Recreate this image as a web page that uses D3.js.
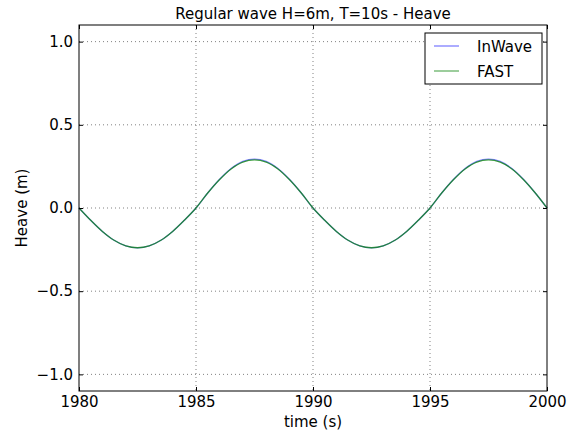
<!DOCTYPE html>
<html>
<head>
<meta charset="utf-8">
<script src="https://cdn.jsdelivr.net/npm/d3@7"></script>
<style>
  body { margin: 0; background: #fff; }
  text { font-family: "DejaVu Sans", sans-serif; fill: #000; }
</style>
</head>
<body>
<div id="chart"></div>
<script>
// Time samples (s), every 0.5 s
const times = [1980, 1980.5, 1981, 1981.5, 1982, 1982.5, 1983, 1983.5, 1984, 1984.5,
  1985, 1985.5, 1986, 1986.5, 1987, 1987.5, 1988, 1988.5, 1989, 1989.5,
  1990, 1990.5, 1991, 1991.5, 1992, 1992.5, 1993, 1993.5, 1994, 1994.5,
  1995, 1995.5, 1996, 1996.5, 1997, 1997.5, 1998, 1998.5, 1999, 1999.5, 2000];

const inWave = [0, -0.074, -0.141, -0.194, -0.228, -0.240, -0.228, -0.194, -0.141, -0.074,
  0, 0.090, 0.171, 0.237, 0.280, 0.294, 0.280, 0.237, 0.171, 0.090,
  0, -0.074, -0.141, -0.194, -0.228, -0.240, -0.228, -0.194, -0.141, -0.074,
  0, 0.090, 0.171, 0.237, 0.280, 0.294, 0.280, 0.237, 0.171, 0.090, 0];

const fast = [0, -0.074, -0.141, -0.194, -0.228, -0.239, -0.228, -0.194, -0.141, -0.074,
  0, 0.090, 0.170, 0.235, 0.276, 0.289, 0.276, 0.235, 0.170, 0.090,
  0, -0.074, -0.141, -0.194, -0.228, -0.239, -0.228, -0.194, -0.141, -0.074,
  0, 0.090, 0.170, 0.235, 0.276, 0.289, 0.276, 0.235, 0.170, 0.090, 0];

const xTicks = [1980, 1985, 1990, 1995, 2000];
const yTicks = [-1.0, -0.5, 0.0, 0.5, 1.0];

const series = [
  { name: "InWave", values: inWave, color: "#0000ff", opacity: 0.5 },
  { name: "FAST", values: fast, color: "#008000", opacity: 0.75 }
];

const width = 578, height = 431;
const margin = { left: 79, right: 31, top: 25, bottom: 40 };

const svg = d3.select('#chart').append('svg')
  .attr('width', width)
  .attr('height', height);

const x = d3.scaleLinear().domain([1980, 2000]).range([margin.left, width - margin.right]);
const y = d3.scaleLinear().domain([-1.1, 1.1]).range([height - margin.bottom, margin.top]);

// grid
svg.append('g').selectAll('line').data(xTicks.slice(1, -1)).join('line')
  .attr('x1', d => x(d)).attr('x2', d => x(d))
  .attr('y1', y(1.1)).attr('y2', y(-1.1))
  .attr('stroke', '#000').attr('stroke-width', 0.5).attr('stroke-dasharray', '1,3');
svg.append('g').selectAll('line').data(yTicks).join('line')
  .attr('x1', x(1980)).attr('x2', x(2000))
  .attr('y1', d => y(d)).attr('y2', d => y(d))
  .attr('stroke', '#000').attr('stroke-width', 0.5).attr('stroke-dasharray', '1,3');

// lines
const line = d3.line()
  .x((d, i) => x(times[i]))
  .y(d => y(d))
  .curve(d3.curveCatmullRom);

svg.append('g').selectAll('path').data(series).join('path')
  .attr('d', s => line(s.values))
  .attr('fill', 'none')
  .attr('stroke', s => s.color)
  .attr('stroke-opacity', s => s.opacity)
  .attr('stroke-width', 1.3);

// axes (ticks inward, like matplotlib classic)
const xAxis = svg.append('g').attr('transform', `translate(0,${y(-1.1)})`)
  .call(d3.axisBottom(x).tickValues(xTicks).tickFormat(d3.format('d')).tickSizeInner(-4).tickSizeOuter(0).tickPadding(5));
const xTop = svg.append('g').attr('transform', `translate(0,${y(1.1)})`)
  .call(d3.axisTop(x).tickValues(xTicks).tickFormat('').tickSizeInner(-4).tickSizeOuter(0));
const yAxis = svg.append('g').attr('transform', `translate(${x(1980)},0)`)
  .call(d3.axisLeft(y).tickValues(yTicks).tickFormat(d => d3.format('.1f')(d).replace('-', '\u2212')).tickSizeInner(-4).tickSizeOuter(0).tickPadding(6));
const yRight = svg.append('g').attr('transform', `translate(${x(2000)},0)`)
  .call(d3.axisRight(y).tickValues(yTicks).tickFormat('').tickSizeInner(-4).tickSizeOuter(0));

[xAxis, xTop, yAxis, yRight].forEach(g => {
  g.select('.domain').remove();
  g.selectAll('text').style('font-size', '15px').attr('font-family', null);
  g.selectAll('line').attr('stroke', '#000');
});

// frame
svg.append('rect')
  .attr('x', x(1980)).attr('y', y(1.1))
  .attr('width', x(2000) - x(1980)).attr('height', y(-1.1) - y(1.1))
  .attr('fill', 'none').attr('stroke', '#000').attr('stroke-width', 1);

// title and labels
svg.append('text').attr('x', (x(1980) + x(2000)) / 2).attr('y', 19)
  .attr('text-anchor', 'middle').style('font-size', '15px')
  .text('Regular wave H=6m, T=10s - Heave');
svg.append('text').attr('x', (x(1980) + x(2000)) / 2).attr('y', 427)
  .attr('text-anchor', 'middle').style('font-size', '15px')
  .text('time (s)');
svg.append('text')
  .attr('transform', `translate(22,${y(0)}) rotate(-90)`)
  .attr('text-anchor', 'middle').attr('dy', '0.35em').style('font-size', '15px')
  .text('Heave (m)');

// legend
const legend = svg.append('g').attr('transform', 'translate(425,33)');
legend.append('rect').attr('width', 117).attr('height', 51)
  .attr('fill', '#fff').attr('stroke', '#000').attr('stroke-width', 1);
const items = legend.selectAll('g').data(series).join('g')
  .attr('transform', (d, i) => `translate(0,${13 + i * 25})`);
items.append('line').attr('x1', 9).attr('x2', 34)
  .attr('stroke', d => d.color).attr('stroke-opacity', d => d.name === 'FAST' ? 0.6 : d.opacity).attr('stroke-width', 1.3);
items.append('text').attr('x', 52).attr('y', 5.5).style('font-size', '15px').text(d => d.name);
</script>
</body>
</html>
